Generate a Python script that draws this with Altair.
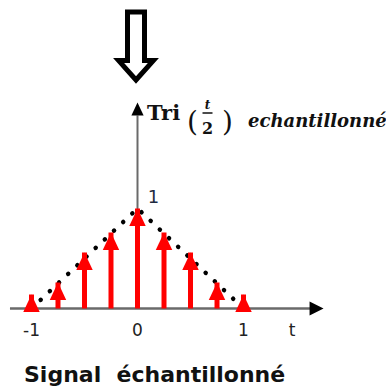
import altair as alt
import pandas as pd

# Sampling instants and sampled amplitudes of Tri(t/2)
sample_t = [-1.0, -0.75, -0.5, -0.25, 0.0, 0.25, 0.5, 0.75, 1.0]
sample_v = [0.14, 0.26, 0.56, 0.76, 1.0, 0.76, 0.56, 0.26, 0.14]

# Continuous triangle envelope (drawn dotted)
tri_t = [-1.0, 0.0, 1.0]
tri_v = [0.0, 1.0, 0.0]

# Horizontal tick labels
tick_values = [-1, 0, 1]
tick_labels = ["-1", "0", "1"]

# ---- layout -------------------------------------------------------------
W, H = 386, 389
X_DOMAIN = [-1.297, 2.344]
Y_DOMAIN = [-0.805, 3.085]
xs = alt.Scale(domain=X_DOMAIN, nice=False, zero=False)
ys = alt.Scale(domain=Y_DOMAIN, nice=False, zero=False)

X_AXIS_FROM, X_AXIS_TO, X_AXIS_TIP = -1.203, 1.66, 1.755
Y_AXIS_TO, Y_AXIS_TIP = 1.93, 2.06

# arrowhead outlines with the tip at the symbol origin
UP_HEAD = "M0,0 L-0.47,1 L0.47,1 Z"
RIGHT_HEAD = "M0,0 L-1,-0.5 L-1,0.5 Z"
BIG_DOWN_ARROW = ("M-0.25,-1 L0.25,-1 L0.25,0.43 L0.51,0.43 L0,1 "
                  "L-0.51,0.43 L-0.25,0.43 Z")

samples = pd.DataFrame({"t": sample_t, "v": sample_v})
envelope = pd.DataFrame({"t": tri_t, "v": tri_v})
ticks = pd.DataFrame({"t": tick_values, "label": tick_labels})


def X(f):
    return alt.X(f, type="quantitative", scale=xs, axis=None)


def Y(f):
    return alt.Y(f, type="quantitative", scale=ys, axis=None)


one = pd.DataFrame({"k": [0]})

# dotted triangle
env_layer = alt.Chart(envelope).mark_line(
    color="black", strokeWidth=4.5, strokeDash=[0.1, 12.5], strokeCap="round"
).encode(x=X("t"), y=Y("v"))

# horizontal axis with arrowhead
x_axis = alt.Chart(one).transform_calculate(
    a=str(X_AXIS_FROM), b=str(X_AXIS_TO), z="0"
).mark_rule(color="#6a6a6a", strokeWidth=2.5).encode(
    x=X("a"), x2="b:Q", y=Y("z")
)
x_head = alt.Chart(one).transform_calculate(
    a=str(X_AXIS_TIP), z="0"
).mark_point(shape=RIGHT_HEAD, size=(2 * 14) ** 2, filled=True, color="black",
             opacity=1, strokeWidth=0).encode(x=X("a"), y=Y("z"))

# vertical axis with arrowhead
y_axis = alt.Chart(one).transform_calculate(
    z="0", a="0", b=str(Y_AXIS_TO)
).mark_rule(color="#6a6a6a", strokeWidth=2).encode(
    x=X("z"), y=Y("a"), y2="b:Q"
)
y_head = alt.Chart(one).transform_calculate(
    z="0", a=str(Y_AXIS_TIP)
).mark_point(shape=UP_HEAD, size=(2 * 13) ** 2, filled=True, color="black",
             opacity=1, strokeWidth=0).encode(x=X("z"), y=Y("a"))

# red sample stems and their heads
stems = alt.Chart(samples).transform_calculate(base="0").mark_rule(
    color="#ff0000", strokeWidth=5
).encode(x=X("t"), y=Y("base"), y2="v:Q")
heads = alt.Chart(samples).mark_point(
    shape=UP_HEAD, size=(2 * 17.5) ** 2, filled=True, color="#ff0000",
    opacity=1, strokeWidth=0
).encode(x=X("t"), y=Y("v"))

# tick labels and axis names
tick_text = alt.Chart(ticks).mark_text(
    font="DejaVu Sans", fontSize=17, color="#222222", baseline="middle"
).encode(x=X("t"), y=alt.value(331), text="label:N")
t_name = alt.Chart(one).mark_text(
    text="t", font="DejaVu Sans", fontSize=17, color="#222222", baseline="middle"
).encode(x=alt.value(292), y=alt.value(331))
one_label = alt.Chart(one).transform_calculate(z="0", u="1").mark_text(
    text="1", font="DejaVu Sans", fontSize=18, color="#1e2a40",
    baseline="middle", dx=16, dy=-11
).encode(x=X("z"), y=Y("u"))


# function name: Tri (t/2) echantillonné
def label(txt, x, y, **kw):
    return alt.Chart(one).mark_text(text=txt, align="left", baseline="alphabetic",
                                    color="#111111", **kw).encode(
        x=alt.value(x), y=alt.value(y))


tri_name = label("Tri", 147, 120, font="DejaVu Serif", fontSize=21, fontWeight="bold")
lpar = label("(", 187, 131, font="DejaVu Serif", fontSize=28)
rpar = label(")", 222, 131, font="DejaVu Serif", fontSize=28)
frac_t = alt.Chart(one).mark_text(text="t", font="DejaVu Serif", fontSize=12,
                                  fontStyle="italic", fontWeight="bold",
                                  color="#111111", baseline="alphabetic").encode(
    x=alt.value(207.5), y=alt.value(109))
frac_bar = alt.Chart(one).mark_rule(color="#111111", strokeWidth=1.5).encode(
    x=alt.value(202.5), x2=alt.value(212.5), y=alt.value(113))
frac_2 = alt.Chart(one).mark_text(text="2", font="DejaVu Serif", fontSize=16,
                                  fontWeight="bold", color="#111111",
                                  baseline="alphabetic").encode(
    x=alt.value(207.5), y=alt.value(134))
sampled = label("echantillonné", 248, 127, font="DejaVu Serif", fontSize=18,
                fontStyle="italic", fontWeight="bold")

# bottom caption (non-breaking space keeps the wide gap)
caption = label("Signal\u00a0\u00a0échantillonné", 24, 382, font="DejaVu Sans",
                fontSize=22, fontWeight="bold")

# big hollow arrow above the plot
big_arrow = alt.Chart(one).mark_point(
    shape=BIG_DOWN_ARROW, size=68 ** 2, filled=True, fill="white",
    stroke="black", strokeWidth=5, strokeJoin="miter", opacity=1
).encode(x=alt.value(136), y=alt.value(46))

chart = alt.layer(
    env_layer, x_axis, y_axis, stems, heads, x_head, y_head,
    tick_text, t_name, one_label,
    tri_name, lpar, rpar, frac_t, frac_bar, frac_2, sampled,
    caption, big_arrow,
).properties(
    width=W, height=H, padding=0, autosize=alt.AutoSizeParams(type="none"),
    background="white",
).configure_view(stroke=None)

chart.save("out.html", embed_options={"renderer": "svg", "actions": False})
